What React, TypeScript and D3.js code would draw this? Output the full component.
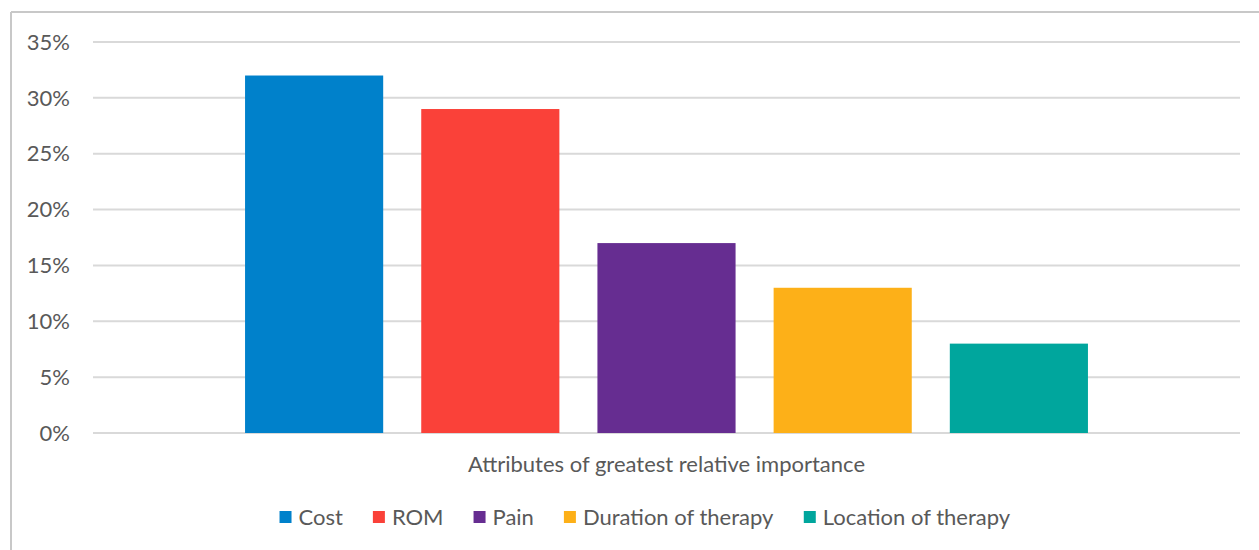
import React, { useMemo } from "react";
import * as d3 from "d3";

const categoryLabel = "Attributes of greatest relative importance";
const seriesNames = ["Cost", "ROM", "Pain", "Duration of therapy", "Location of therapy"];
const seriesValues = [0.32, 0.29, 0.17, 0.13, 0.08];
const seriesColors = ["#0081CB", "#FA4139", "#662D91", "#FDB018", "#00A69D"];
const yTicks = [0, 0.05, 0.1, 0.15, 0.2, 0.25, 0.3, 0.35];

const W = 1259;
const H = 550;
const FONT = "Lato, 'Open Sans', sans-serif";

function measure(text: string, size: number) {
  const c = document.createElement("canvas");
  const ctx = c.getContext("2d")!;
  ctx.font = `${size}px Lato`;
  return ctx.measureText(text).width;
}

export default function App() {
  const plot = { left: 93, right: 1240, top: 42, bottom: 433 };
  const y = d3.scaleLinear().domain([0, 0.35]).range([plot.bottom, plot.top]);
  const x0 = d3
    .scaleBand<string>()
    .domain([categoryLabel])
    .range([plot.left, plot.right])
    .paddingInner(0)
    .paddingOuter(0.151);
  const x1 = d3
    .scaleBand<string>()
    .domain(seriesNames)
    .range([0, x0.bandwidth()])
    .paddingInner(0.216)
    .paddingOuter(0.108);

  const legendFont = 22;
  const legend = useMemo(() => {
    const sq = 12;
    const gapText = 7;
    const gapItem = 30;
    const widths = seriesNames.map((n) => measure(n, legendFont));
    const total =
      widths.reduce((a, b) => a + b, 0) + seriesNames.length * (sq + gapText) + (seriesNames.length - 1) * gapItem;
    let cx = 645 - total / 2;
    return seriesNames.map((n, i) => {
      const item = { name: n, x: cx, color: seriesColors[i] };
      cx += sq + gapText + widths[i] + gapItem;
      return item;
    });
  }, []);

  const fmt = d3.format(".0%");

  return (
    <svg
      width={W}
      height={H}
      style={{ position: "absolute", left: 0, top: 0, background: "#fff" }}
      fontFamily={FONT}
    >
      <rect x={0} y={0} width={W} height={H} fill="#fff" />
      <line x1={11} x2={W} y1={12} y2={12} stroke="#c8c8c8" strokeWidth={2} />
      <line x1={11} x2={11} y1={12} y2={H} stroke="#c8c8c8" strokeWidth={2} />

      {yTicks.map((t) => (
        <g key={t}>
          <line
            x1={plot.left}
            x2={plot.right}
            y1={y(t)}
            y2={y(t)}
            stroke="#d9d9d9"
            strokeWidth={2}
          />
          <text
            x={70}
            y={y(t)}
            dy="0.35em"
            textAnchor="end"
            fontSize={22}
            fill="#595959"
          >
            {fmt(t)}
          </text>
        </g>
      ))}

      {seriesNames.map((n, i) => (
        <rect
          key={n}
          x={(x0(categoryLabel) ?? 0) + (x1(n) ?? 0)}
          y={y(seriesValues[i])}
          width={x1.bandwidth()}
          height={y(0) - y(seriesValues[i])}
          fill={seriesColors[i]}
        />
      ))}

      <text
        x={(x0(categoryLabel) ?? 0) + x0.bandwidth() / 2}
        y={464}
        dy="0.35em"
        textAnchor="middle"
        fontSize={22}
        fill="#595959"
      >
        {categoryLabel}
      </text>

      {legend.map((it) => (
        <g key={it.name}>
          <rect x={it.x} y={511} width={12} height={12} fill={it.color} />
          <text x={it.x + 19} y={517} dy="0.35em" fontSize={legendFont} fill="#595959">
            {it.name}
          </text>
        </g>
      ))}
    </svg>
  );
}
